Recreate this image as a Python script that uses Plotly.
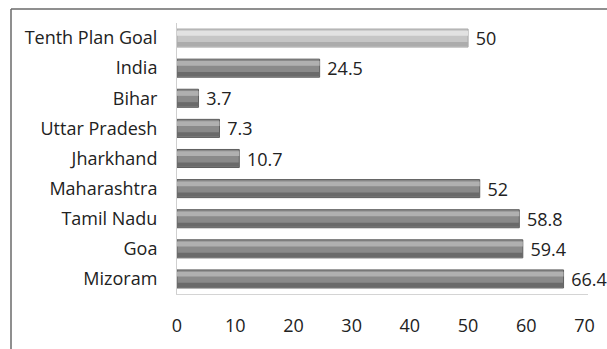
import plotly.graph_objects as go

categories = ["Tenth Plan Goal", "India", "Bihar", "Uttar Pradesh", "Jharkhand",
              "Maharashtra", "Tamil Nadu", "Goa", "Mizoram"]
values = [50, 24.5, 3.7, 7.3, 10.7, 52, 58.8, 59.4, 66.4]
value_labels = ["50", "24.5", "3.7", "7.3", "10.7", "52", "58.8", "59.4", "66.4"]
tick_vals = [0, 10, 20, 30, 40, 50, 60, 70]

base_col = ["#c6c6c6" if c == "Tenth Plan Goal" else "#8a8a8a" for c in categories]
line_col = ["#a8a8a8" if c == "Tenth Plan Goal" else "#5e5e5e" for c in categories]
hi_col = ["#e2e2e2" if c == "Tenth Plan Goal" else "#b0b0b0" for c in categories]
sh_col = ["#acacac" if c == "Tenth Plan Goal" else "#6a6a6a" for c in categories]

FONT = "Open Sans"
FS = 18

fig = go.Figure()
fig.add_trace(go.Bar(
    y=categories, x=values, orientation="h", width=0.6, offset=-0.3,
    marker=dict(color=base_col, line=dict(color=line_col, width=1)),
    text=[" " + v for v in value_labels], textposition="outside",
    constraintext="none",
    textfont=dict(family=FONT, size=FS, color="#222222"),
    cliponaxis=False, hoverinfo="skip",
))
fig.add_trace(go.Bar(
    y=categories, x=values, orientation="h", width=0.16, offset=-0.24,
    marker=dict(color=hi_col, line=dict(width=0)), hoverinfo="skip",
))
fig.add_trace(go.Bar(
    y=categories, x=values, orientation="h", width=0.14, offset=0.13,
    marker=dict(color=sh_col, line=dict(width=0)), hoverinfo="skip",
))

fig.update_layout(
    width=607, height=349,
    margin=dict(l=177, r=17, t=23, b=52),
    barmode="overlay",
    showlegend=False,
    plot_bgcolor="white", paper_bgcolor="white",
    font=dict(family=FONT, size=FS, color="#222222"),
    xaxis=dict(range=[0, 70.6], tickvals=tick_vals, showgrid=False, zeroline=False,
               showline=True, linecolor="#d4d4d4", linewidth=1,
               ticklabelstandoff=15, tickfont=dict(family=FONT, size=FS, color="#222222")),
    yaxis=dict(categoryorder="array", categoryarray=categories, autorange="reversed",
               showgrid=False, zeroline=False, showline=True, linecolor="#cfcfcf",
               linewidth=1, ticklabelstandoff=15,
               tickfont=dict(family=FONT, size=FS, color="#222222")),
    shapes=[
        dict(type="line", xref="paper", yref="paper", xsizemode="pixel", ysizemode="pixel",
             xanchor=0, yanchor=1, x0=-166, x1=440, y0=14, y1=14,
             line=dict(color="#6a6a6a", width=1.5)),
        dict(type="line", xref="paper", yref="paper", xsizemode="pixel", ysizemode="pixel",
             xanchor=0, yanchor=1, x0=-166, x1=-166, y0=14, y1=-340,
             line=dict(color="#6a6a6a", width=1.5)),
    ],
)

fig.write_html("out.html")
